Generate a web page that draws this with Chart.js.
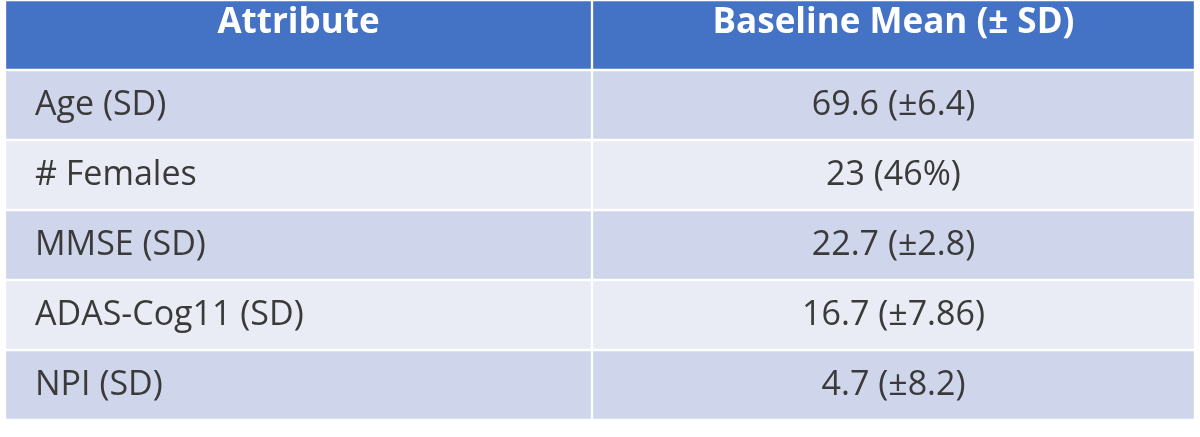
<!DOCTYPE html>
<html>
<head>
<meta charset="utf-8">
<script src="https://cdn.jsdelivr.net/npm/chart.js@4/dist/chart.umd.min.js"></script>
<style>
  html, body { margin: 0; padding: 0; background: #fff; }
  #wrap { width: 1200px; height: 437px; }
</style>
</head>
<body>
<div id="wrap"><canvas id="tableChart"></canvas></div>
<script>
// 表の中身
const headers = ["Attribute", "Baseline Mean (± SD)"];
const attributes = ["Age (SD)", "# Females", "MMSE (SD)", "ADAS-Cog11 (SD)", "NPI (SD)"];
const baselineValues = ["69.6 (±6.4)", "23 (46%)", "22.7 (±2.8)", "16.7 (±7.86)", "4.7 (±8.2)"];
// 列幅（x軸の単位）
const columnWidths = [587, 603];

const rowLabels = ["header"].concat(attributes);
const rowColors = ["#4472C4", "#CFD5EA", "#E9EBF5", "#CFD5EA", "#E9EBF5", "#CFD5EA"];

// セルの文字を描くプラグイン
const cellTextPlugin = {
  id: "cellText",
  afterDatasetsDraw(chart) {
    const ctx = chart.ctx;
    const x = chart.scales.x;
    const y = chart.scales.y;
    ctx.save();
    ctx.textBaseline = "middle";
    rowLabels.forEach((label, i) => {
      const cy = y.getPixelForValue(i);
      const isHeader = i === 0;
      ctx.font = (isHeader ? "bold 35px" : "34px") + " 'Open Sans', 'Liberation Sans', sans-serif";
      ctx.fillStyle = isHeader ? "#ffffff" : "#3a3a3a";
      const leftText = isHeader ? headers[0] : attributes[i - 1];
      const rightText = isHeader ? headers[1] : baselineValues[i - 1];
      const ty = isHeader ? cy - 12 : cy;
      if (isHeader) {
        ctx.textAlign = "center";
        ctx.fillText(leftText, x.getPixelForValue(columnWidths[0] / 2), ty);
      } else {
        ctx.textAlign = "left";
        ctx.fillText(leftText, x.getPixelForValue(0) + 30, ty);
      }
      ctx.textAlign = "center";
      ctx.fillText(rightText, x.getPixelForValue(columnWidths[0] + columnWidths[1] / 2), ty);
    });
    ctx.restore();
  }
};

new Chart(document.getElementById("tableChart"), {
  type: "bar",
  data: {
    labels: rowLabels,
    datasets: [
      { data: rowLabels.map(() => columnWidths[0]), backgroundColor: rowColors, borderColor: "#ffffff", borderWidth: 1.5, borderSkipped: false },
      { data: rowLabels.map(() => columnWidths[1]), backgroundColor: rowColors, borderColor: "#ffffff", borderWidth: 1.5, borderSkipped: false }
    ]
  },
  options: {
    indexAxis: "y",
    responsive: true,
    maintainAspectRatio: false,
    animation: false,
    layout: { padding: { left: 5, right: 5, top: 0, bottom: 17 } },
    datasets: { bar: { categoryPercentage: 1, barPercentage: 1 } },
    scales: {
      x: { stacked: true, display: false, min: 0, max: columnWidths[0] + columnWidths[1] },
      y: { stacked: true, display: false }
    },
    plugins: { legend: { display: false }, tooltip: { enabled: false } }
  },
  plugins: [cellTextPlugin]
});
</script>
</body>
</html>
